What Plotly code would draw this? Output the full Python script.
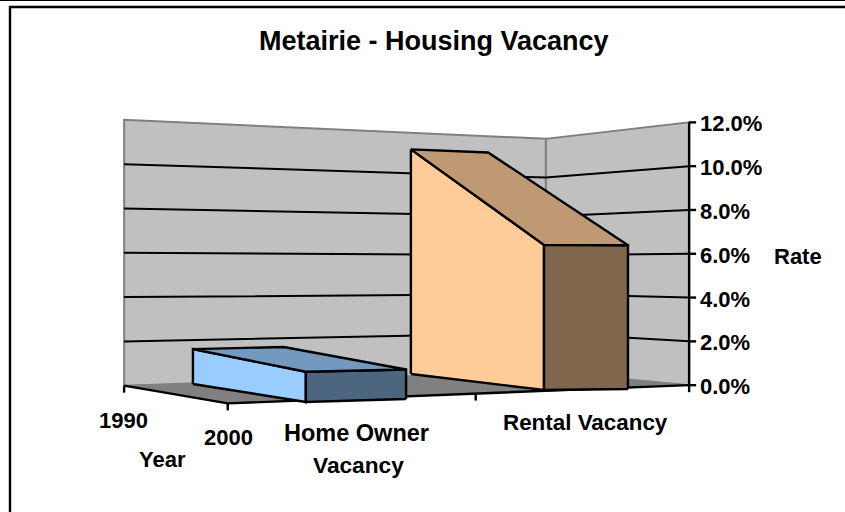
import numpy as np
import plotly.graph_objects as go

# ---- data ----
title = "Metairie - Housing Vacancy"
categories = ["Home Owner<br>Vacancy", "Rental Vacancy"]
years = ["1990", "2000"]
home_owner = [1.6, 1.2]
rental = [11.3, 6.35]
value_ticks = [0, 2, 4, 6, 8, 10, 12]
value_labels = ["0.0%", "2.0%", "4.0%", "6.0%", "8.0%", "10.0%", "12.0%"]

# box footprint corners in axis-fraction space (u along category axis, w along depth axis)
back_left = [(0.139, 0.033), (0.689, -0.133)]
back_right = [(0.34, 0.033), (0.889, -0.133)]
front_left = [(0.132, 1.069), (0.666, 0.96)]
front_right = [(0.32, 1.11), (0.825, 1.064)]

# ---- camera: axis-box corners (u, w, value) -> page pixel ----
calib = [(0, 0, 0, 124, 385), (1, 0, 0, 546, 372), (1, 1, 0, 689, 385), (0, 1, 0, 228, 404),
         (0, 0, 12, 124, 120), (1, 0, 12, 546, 139), (1, 1, 12, 689, 122)]
A, B = [], []
for u, w, v, x, y in calib:
    A.append([u, w, 1, 0, 0, 0, 0, -x * u, -x * w]); B.append(x)
    A.append([0, 0, 0, u, w, v, 1, -y * u, -y * w]); B.append(y)
a, b, c, d, e, k, f, g, h = np.linalg.lstsq(np.array(A, float), np.array(B, float), rcond=None)[0]


def project(u, w, v=0.0):
    W = g * u + h * w + 1
    return (a * u + b * w + c) / W, (d * u + e * w + k * v + f) / W


fig = go.Figure()


def path(points, color="black", width=2.0, fill=None):
    xs, ys = zip(*points)
    fig.add_trace(go.Scatter(x=list(xs), y=list(ys), mode="lines", hoverinfo="skip",
                             line=dict(color=color, width=width),
                             fill="toself" if fill else None, fillcolor=fill))


GREY, WALL = "#808080", "#C0C0C0"
# walls
path([project(0, 0, 0), project(1, 0, 0), project(1, 0, 12), project(0, 0, 12), project(0, 0, 0)], GREY, 2, WALL)
path([project(1, 0, 0), project(1, 1, 0), project(1, 1, 12), project(1, 0, 12), project(1, 0, 0)], GREY, 2, WALL)
# gridlines
for t in value_ticks[1:-1]:
    path([project(0, 0, t), project(1, 0, t), project(1, 1, t)], "black", 2)
# floor
path([project(0, 0), project(1, 0), project(1, 1), project(0, 1), project(0, 0)], GREY, 1, GREY)
# axes
path([project(0, 0), project(0, 1), project(1, 1)], "black", 2.4)
TICK = 7
for u, w in [(0, 0), (0, 1), (0.5, 1), (1, 1)]:
    x, y = project(u, w)
    path([(x, y), (x, y + TICK)], "black", 2.4)
path([project(1, 1, 0), project(1, 1, 12)], "black", 2.4)
for t, lab in zip(value_ticks, value_labels):
    x, y = project(1, 1, t)
    path([(x, y), (x + TICK, y)], "black", 2.4)


def box(i, vals, front, top, side):
    bl, br, fl, fr = back_left[i], back_right[i], front_left[i], front_right[i]
    v0, v1 = vals
    path([project(*bl), project(*fl), project(*fl, v1), project(*bl, v0), project(*bl)], "black", 2.4, front)
    path([project(*fr), project(*fl), project(*fl, v1), project(*fr, v1), project(*fr)], "black", 2.4, side)
    path([project(*bl, v0), project(*br, v0), project(*fr, v1), project(*fl, v1), project(*bl, v0)], "black", 2.4, top)


box(0, home_owner, "#99CCFF", "#7399BF", "#4D6680")
box(1, rental, "#FFCC99", "#BF9973", "#80664D")

# page frame
path([(0, 0.5), (845, 0.5)], "black", 1)
path([(10, 512), (10, 7), (845, 7)], "black", 2.4)

FONT = "Liberation Sans"
SIZE = 22


def label(x, y, text, size=SIZE):
    fig.add_annotation(x=x, y=y, text=f"<b>{text}</b>", showarrow=False, xanchor="center", yanchor="middle",
                       font=dict(family=FONT, size=size, color="black"))


label(434, 41, title, 27)
for t, lab in zip(value_ticks, value_labels):
    x, y = project(1, 1, t)
    fig.add_annotation(x=x + 9, y=y + 1.5, text=f"<b>{lab}</b>", showarrow=False, xanchor="left", yanchor="middle",
                       font=dict(family=FONT, size=SIZE, color="black"))
label(798, 256, "Rate")
label(123, 420, years[0])
label(228, 437, years[1])
label(162, 459, "Year")
line1, line2 = categories[0].split("<br>")
label(356, 433, line1, 23.5)
label(358, 465, line2, 22.7)
label(585, 422, categories[1], 22.4)

fig.update_layout(width=845, height=512, margin=dict(l=0, r=0, t=0, b=0), showlegend=False,
                  paper_bgcolor="white", plot_bgcolor="white",
                  xaxis=dict(visible=False, range=[0, 845], fixedrange=True),
                  yaxis=dict(visible=False, range=[512, 0], fixedrange=True))
fig.write_html("out.html", config={"displayModeBar": False},
               post_script="document.body.style.margin='0';document.documentElement.style.overflow='hidden';")
